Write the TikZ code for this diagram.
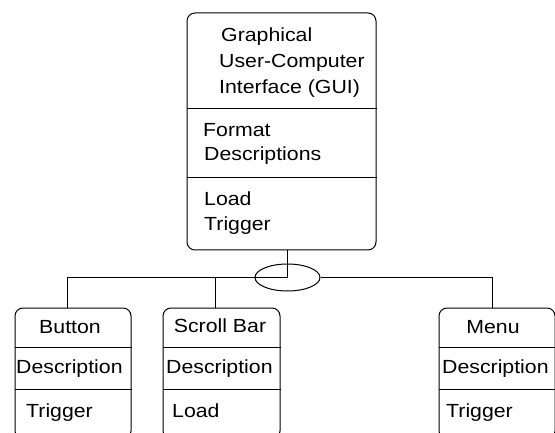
\documentclass[tikz,border=0pt]{standalone}
\usepackage{fontspec}
\setmainfont[FakeStretch=1.12]{Liberation Sans}
\usetikzlibrary{shapes.geometric}
\begin{document}
\begin{tikzpicture}[x=1pt,y=-1pt,
  every node/.style={inner sep=0pt},
  line/.style={draw=black,line width=1pt},
  box/.style={draw=black,line width=1pt,rectangle,rounded corners=8pt,anchor=north west},
  lbl/.style={anchor=base west,font=\fontsize{19}{24}\selectfont},
  clbl/.style={anchor=base,font=\fontsize{19}{24}\selectfont}]
\useasboundingbox (0,0) rectangle (555,433);
\fill[white] (0,0) rectangle (555,433);
% top box
\node[box,minimum width=189pt,minimum height=237pt] (gui) at (186.5,12.5) {};
\draw[line] (gui.west |- 0,108.5) -- (gui.east |- 0,108.5);
\draw[line] (gui.west |- 0,177.5) -- (gui.east |- 0,177.5);
\node[lbl] (t1) at (221,42) {Graphical};
\node[lbl] (t2) at (219,68) {User-Computer};
\node[lbl] (t3) at (219,94) {Interface (GUI)};
\node[lbl] (t4) at (203,137) {Format};
\node[lbl] (t5) at (204,161) {Descriptions};
\node[lbl] (t6) at (204,206) {Load};
\node[lbl] (t7) at (204,231) {Trigger};
% bottom boxes
\node[box,minimum width=116pt,minimum height=131pt] (button) at (14.5,307.5) {};
\node[box,minimum width=117pt,minimum height=131pt] (scroll) at (162.5,307.5) {};
\node[box,minimum width=116pt,minimum height=131pt] (menu) at (438.5,307.5) {};
\foreach \b in {button,scroll,menu}{
  \draw[line] (\b.west |- 0,347.5) -- (\b.east |- 0,347.5);
  \draw[line] (\b.west |- 0,389.5) -- (\b.east |- 0,389.5);
}
\node[clbl] (b1) at (70,333) {Button};
\node[lbl] (b2) at (16,373) {Description};
\node[lbl] (b3) at (26,417) {Trigger};
\node[clbl] (s1) at (220,332) {Scroll Bar};
\node[lbl] (s2) at (166,373) {Description};
\node[lbl] (s3) at (172,417) {Load};
\node[clbl] (m1) at (493,333) {Menu};
\node[lbl] (m2) at (442,373) {Description};
\node[lbl] (m3) at (446,417) {Trigger};
% connectors
\coordinate (hub) at (287.5,277.5);
\coordinate (bj) at (67.5,277.5);
\coordinate (sj) at (215.5,277.5);
\coordinate (mj) at (492.5,277.5);
\node[ellipse,draw=black,line width=1pt,minimum width=65pt,minimum height=27pt] (junc) at (287.5,277.5) {};
\draw[line] (hub |- gui.south) -- (hub);
\draw[line] (bj |- button.north) -- (bj) -- (hub);
\draw[line] (sj |- scroll.north) -- (sj);
\draw[line] (junc.east) -- (mj) -- (mj |- menu.north);
\end{tikzpicture}
\end{document}
